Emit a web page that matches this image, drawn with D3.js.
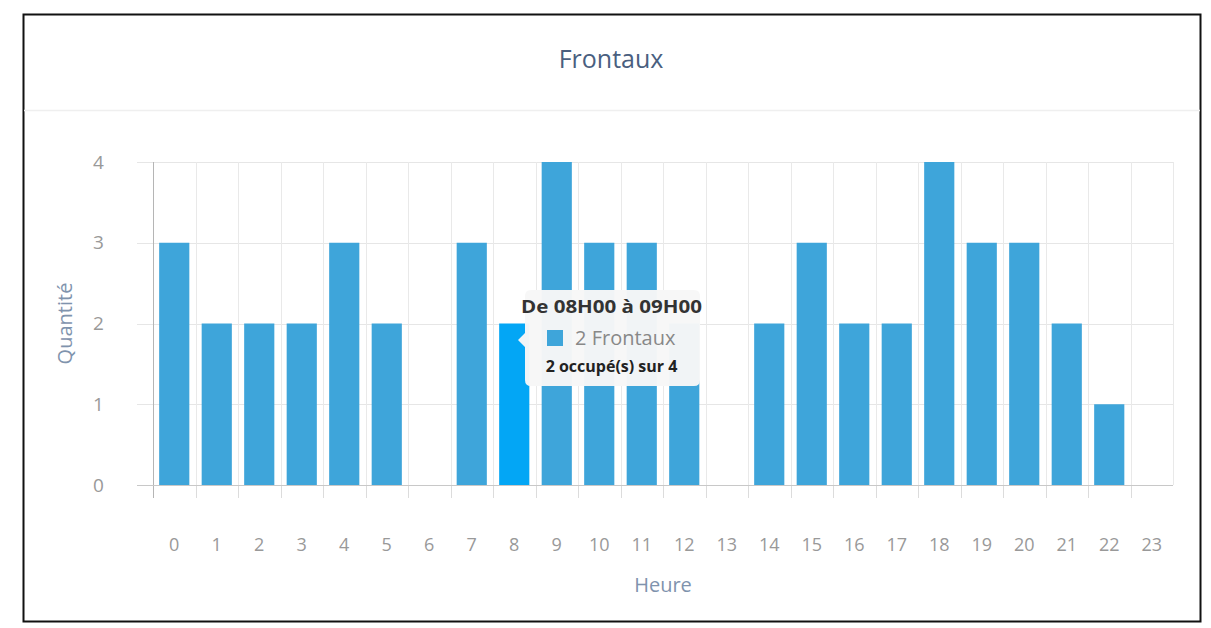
<!DOCTYPE html>
<html><head><meta charset="utf-8">
<script src="https://cdn.jsdelivr.net/npm/d3@7"></script>
<style>
html,body{margin:0;padding:0;background:#fff;}
svg{display:block;font-family:"Open Sans",sans-serif;}
</style></head>
<body>
<svg id="chart" width="1211" height="628"></svg>
<script>
const hours = ["0","1","2","3","4","5","6","7","8","9","10","11","12","13","14","15","16","17","18","19","20","21","22","23"];
const frontaux = [3,2,2,2,3,2,0,3,2,4,3,3,2,0,2,3,2,2,4,3,3,2,1,0];
const yTicks = [0,1,2,3,4];
const highlightIndex = 8;
const tooltipTitle = "De 08H00 à 09H00";
const tooltipSeries = "2 Frontaux";
const tooltipNote = "2 occupé(s) sur 4";

const svg = d3.select("#chart");
// outer frame
svg.append("rect").attr("x",23.5).attr("y",14.5).attr("width",1177).attr("height",607)
  .attr("fill","#fff").attr("stroke","#111").attr("stroke-width",2);
// header separator
svg.append("line").attr("x1",24).attr("x2",1200).attr("y1",110.5).attr("y2",110.5)
  .attr("stroke","#efefef").attr("stroke-width",1.5);
svg.append("text").attr("x",611).attr("y",68).attr("text-anchor","middle")
  .attr("font-size",25).attr("fill","#4a5f7f").text("Frontaux");

const x = d3.scaleBand().domain(hours).range([153,1173]).paddingInner(0.29).paddingOuter(0.145);
const xb = d3.scaleBand().domain(hours).range([153,1173]);
const y = d3.scaleLinear().domain([0,4]).range([485,162]);

// horizontal grid
svg.append("g").selectAll("line").data(yTicks).join("line")
  .attr("x1",137).attr("x2",1173).attr("y1",d=>Math.round(y(d))+0.5).attr("y2",d=>Math.round(y(d))+0.5)
  .attr("stroke","#e6e6e6");
// vertical grid at band boundaries
const bounds = hours.map(h=>xb(h)).concat([1173]);
svg.append("g").selectAll("line").data(bounds.slice(1)).join("line")
  .attr("x1",d=>Math.round(d)+0.5).attr("x2",d=>Math.round(d)+0.5).attr("y1",162).attr("y2",485)
  .attr("stroke","#e9e9e9");
// ticks below axis
svg.append("g").selectAll("line").data(bounds.slice(0,24)).join("line")
  .attr("x1",d=>Math.round(d)+0.5).attr("x2",d=>Math.round(d)+0.5).attr("y1",485).attr("y2",498)
  .attr("stroke","#dcdcdc");

// bars
svg.append("g").selectAll("rect").data(frontaux).join("rect")
  .attr("x",(d,i)=>x(hours[i])).attr("width",x.bandwidth())
  .attr("y",d=>y(d)).attr("height",d=>y(0)-y(d))
  .attr("fill",(d,i)=>i===highlightIndex?"#03a6f5":"#3ea5da");

// axes lines
svg.append("line").attr("x1",153.5).attr("x2",153.5).attr("y1",162).attr("y2",498).attr("stroke","#b5b5b5");
svg.append("line").attr("x1",137).attr("x2",1173).attr("y1",485.5).attr("y2",485.5).attr("stroke","#c8c8c8");

// y labels
svg.append("g").selectAll("text").data(yTicks).join("text")
  .attr("x",98.5).attr("y",d=>y(d)+6.5).attr("text-anchor","middle")
  .attr("font-size",19).attr("fill","#999").text(d=>d);
// x labels
svg.append("g").selectAll("text").data(hours).join("text")
  .attr("x",d=>x(d)+x.bandwidth()/2).attr("y",551).attr("text-anchor","middle")
  .attr("font-size",18).attr("fill","#999").text(d=>d);

// axis titles
svg.append("text").attr("x",663).attr("y",592).attr("text-anchor","middle")
  .attr("font-size",20).attr("fill","#7f93ad").text("Heure");
svg.append("text").attr("transform","translate(72,323.5) rotate(-90)").attr("text-anchor","middle")
  .attr("font-size",20).attr("fill","#7f93ad").text("Quantité");

// tooltip
const tx = 525, ty = 290, tw = 175, th = 96;
const tip = svg.append("g");
const pointerY = 340;
tip.append("path")
  .attr("d",`M${tx+6},${ty} H${tx+tw-6} Q${tx+tw},${ty} ${tx+tw},${ty+6} V${ty+th-6} Q${tx+tw},${ty+th} ${tx+tw-6},${ty+th} H${tx+6} Q${tx},${ty+th} ${tx},${ty+th-6} V${pointerY+7} L${tx-7},${pointerY} L${tx},${pointerY-7} V${ty+6} Q${tx},${ty} ${tx+6},${ty} Z`)
  .attr("fill","#f7f7f7").attr("fill-opacity",0.97);
tip.append("text").attr("x",611.5).attr("y",313).attr("text-anchor","middle")
  .attr("font-size",18).attr("font-weight","bold").attr("fill","#333")
  .attr("textLength",181).attr("lengthAdjust","spacingAndGlyphs").text(tooltipTitle);
tip.append("rect").attr("x",547).attr("y",330).attr("width",16).attr("height",16).attr("fill","#3ea5da");
tip.append("text").attr("x",575).attr("y",345)
  .attr("font-size",20).attr("fill","#888").text(tooltipSeries);
tip.append("text").attr("x",611.5).attr("y",372).attr("text-anchor","middle")
  .attr("font-size",16).attr("font-weight","bold").attr("fill","#222").text(tooltipNote);
</script>
</body></html>
